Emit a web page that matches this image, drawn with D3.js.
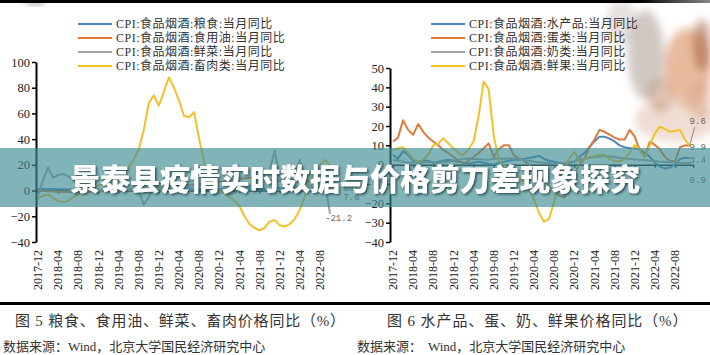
<!DOCTYPE html>
<html><head><meta charset="utf-8">
<script src="https://cdn.jsdelivr.net/npm/d3@7"></script>
<style>
html,body{margin:0;padding:0;background:#fff;}
svg{display:block;}
</style></head>
<body>
<svg id="chart" width="710" height="355"></svg>
<script>
// ---------- data ----------
// month index 0 = 2017-12 ... 59 = 2022-11
const tickLabels = ["2017-12","2018-04","2018-08","2018-12","2019-04","2019-08","2019-12","2020-04","2020-08","2020-12","2021-04","2021-08","2021-12","2022-04","2022-08"];
const yTicksLeft = [-40,-20,0,20,40,60,80,100];
const yTicksRight = [-40,-30,-20,-10,0,10,20,30,40,50];

const leftNames = ["CPI:食品烟酒:粮食:当月同比","CPI:食品烟酒:食用油:当月同比","CPI:食品烟酒:鲜菜:当月同比","CPI:食品烟酒:畜肉类:当月同比"];
const rightNames = ["CPI:食品烟酒:水产品:当月同比","CPI:食品烟酒:蛋类:当月同比","CPI:食品烟酒:奶类:当月同比","CPI:食品烟酒:鲜果:当月同比"];

// Fig.5 (2017-12 .. 2022-10)
const grain = [1.4,
  1.3,1.3,1.2,1.1,1.0,0.9,0.8,0.8,0.7,0.7,0.7,0.6,
  0.6,0.5,0.6,0.6,0.6,0.6,0.5,0.6,0.6,0.6,0.5,0.6,
  0.8,1.2,1.4,1.4,1.5,1.5,1.5,1.3,1.4,1.3,1.2,1.2,
  1.1,1.2,1.3,1.3,1.1,1.2,1.2,1.0,0.9,1.2,1.6,2.0,
  1.8,2.0,2.4,2.7,2.5,2.5,2.6,2.7,2.8,3.0];
const oil = [0.3,
  -0.3,-0.5,-0.8,-1.0,-1.1,-1.0,-1.2,-1.3,-1.2,-1.0,-0.8,-0.7,
  -0.5,-0.3,0.0,0.3,0.5,0.6,0.8,1.0,1.2,1.5,2.0,2.3,
  2.6,3.0,3.4,3.8,4.3,4.5,4.8,5.2,5.6,6.0,6.5,7.0,
  7.4,8.0,8.6,9.2,9.6,9.9,9.6,9.3,8.9,8.4,8.0,7.6,
  7.3,7.0,6.8,7.2,7.6,7.9,8.0,7.8,7.2,6.0];
const veg = [-4,
  8,18,10,12,13,11,8,4,3,2,1,0,
  1,2,0,-1,0,1,2,0,-11,-5,3,6,
  5,4,3,2,1,3,4,5,3,0,-3,-2,
  -1,-3,-2,0,2,3,5,8,12,16,31,10,
  5,2,12,24,11,3,8,11,5,-18];
const meat = [-6,
  -4,-3,-6,-8,-9,-8,-5,-3,-2,-1,1,4,
  5,7,9,11,13,18,24,32,47,68,74,66,
  77,88,80,70,58,57,61,40,22,3,-2,0,
  -2,-5,-8,-12,-20,-26,-29,-31,-29,-24,-23,-27,
  -28,-26,-22,-15,-4,8,14,20,24,20];

// Fig.6 (2017-12 .. 2022-11)
const aquatic = [5,
  3,7,5,2,1.5,2,2,1,1.5,2,2.5,2,
  1.5,1,0.5,1,1.5,1,0.5,0,1,1.5,2,2.5,
  2.5,3,3.5,4,4.5,3,2,1.5,1,0.5,1,1.5,
  4,6,9,12,14.5,14.5,13.5,12,10,9,8.5,8.5,
  8,6,4,1,-1,-2,-1.5,0,3,3.5,3.4];
const eggs = [12,
  14,23,18,15.5,21,17,14,12,10,7.5,6,4,
  2,0.5,2,4,6,8.5,11,4,8,10,10,5,
  3,2,0,-3,-5,-8,-11,-14,-16,-17,-12,-5,
  0,3,9,13,18,17,15.5,14,13,13,18,14.5,
  7.6,4,11.9,10.2,8,4,2,1.6,9,10,9.9];
const milk = [2.5,
  2,1.5,1,1.2,0.8,1,1.5,1,0.8,1.2,1.5,2,
  2.5,3,3.2,2.8,3,2.5,2.5,3,3.2,3,3.3,3,
  2.8,2.2,2,1.5,1.2,1,0.8,0.5,0.7,0.9,1.3,1.8,
  2.5,3,3.5,4,4.2,4.5,4.2,4,3.5,3.2,3,2.7,
  2.5,2.3,2,1.8,1.6,1.5,1.3,1.2,1,0.9,0.9];
const fruit = [7.6,
  8.5,9,6,3,1.6,2.5,5,10,11,13.6,11,8.5,
  6,5,8,12,25,43,39,15,2.4,0,-3,-4,
  -6,-9,-13,-18,-25,-29.5,-28,-19,-8,-2,3,6.7,
  1.6,3,4,4.5,5,5,3,2,1.6,3,6,10.2,
  8,4,10,16.2,19.7,18.5,17,17.5,18,12.8,9.6];

const leftEndLabels = ["60","7.6","-21.2"];
const rightEndLabels = ["9.6","9.9","3.4","0.9"];

const titleText = "景泰县疫情实时数据与价格剪刀差现象探究";
const caption5 = "图 5 粮食、食用油、鲜菜、畜肉价格同比（%）";
const caption6 = "图 6 水产品、蛋、奶、鲜果价格同比（%）";
const sourceLabel = "数据来源：";
const sourceText = "Wind，北京大学国民经济研究中心";

const colors = ["#4f87bd","#e07a3c","#a3a3a3","#f2c12a"];
const serif = "'Liberation Serif','Noto Sans CJK SC',serif";

// ---------- drawing ----------
const svg = d3.select("#chart");
const defs = svg.append("defs");
defs.append("filter").attr("id","blur").attr("x","-50%").attr("y","-50%").attr("width","200%").attr("height","200%")
  .append("feGaussianBlur").attr("stdDeviation",4);
const sh = defs.append("filter").attr("id","shadow").attr("x","-10%").attr("y","-30%").attr("width","120%").attr("height","160%");
sh.append("feDropShadow").attr("dx",1.5).attr("dy",1.5).attr("stdDeviation",1).attr("flood-color","#1f3f42").attr("flood-opacity",0.85);
const fade = defs.append("linearGradient").attr("id","fade").attr("x1","0").attr("x2","1");
fade.append("stop").attr("offset","0.9").attr("stop-color","#000");
fade.append("stop").attr("offset","1").attr("stop-color","#888");

svg.append("rect").attr("width",710).attr("height",355).attr("fill","#fff");

// faded background photo (top right)
const photo = svg.append("g").attr("filter","url(#blur)");
[[622,22,16,22,"#cfc3bf",0.5],[646,55,18,45,"#ab9a94",0.55],[688,68,24,40,"#d6814c",0.55],
 [702,45,9,26,"#9c5434",0.5],[676,120,42,22,"#e6c6b6",0.6],[660,95,12,18,"#c08f74",0.5],
 [700,100,12,20,"#d9a48a",0.5]]
 .forEach(e=>photo.append("ellipse").attr("cx",e[0]).attr("cy",e[1]).attr("rx",e[2]).attr("ry",e[3]).attr("fill",e[4]).attr("opacity",e[5]));
svg.append("ellipse").attr("cx",35).attr("cy",1).attr("rx",10).attr("ry",3).attr("fill","#6b5444").attr("filter","url(#blur)").attr("opacity",0.7);

// frame lines
svg.append("rect").attr("x",0).attr("y",0).attr("width",710).attr("height",3).attr("fill","url(#fade)");
svg.append("rect").attr("x",0).attr("y",302).attr("width",710).attr("height",3).attr("fill","#000");

function panel(cfg){
  const g = svg.append("g");
  const x = d3.scaleLinear().domain([0,56]).range(cfg.xr);
  const y = d3.scaleLinear().domain(cfg.yd).range([242, cfg.ytop]);
  const nMax = d3.max(cfg.series, s=>s.length) - 1;

  // legend
  cfg.names.forEach((n,k)=>{
    const ly = 24 + 14*k;
    g.append("line").attr("x1",cfg.legX).attr("x2",cfg.legX+34).attr("y1",ly).attr("y2",ly)
      .attr("stroke",colors[k]).attr("stroke-width",2);
    g.append("text").attr("x",cfg.legX+38).attr("y",ly).attr("dy","0.35em")
      .attr("font-family",serif).attr("font-size",12).attr("letter-spacing",0.5).attr("fill","#333").text(n);
  });

  // x axis at zero
  const xa = x.copy().domain([-0.4, nMax+0.6]).range([x(-0.4), x(nMax+0.6)]);
  const xg = g.append("g").attr("transform",`translate(0,${y(0)})`)
    .call(d3.axisBottom(xa).tickValues(d3.range(0,57,4)).tickSize(3).tickSizeOuter(3).tickFormat(""));
  xg.selectAll("path,line").attr("stroke","#222").attr("stroke-width",1.5);

  // rotated month labels
  tickLabels.forEach((t,k)=>{
    g.append("text").attr("transform",`translate(${x(k*4)},250) rotate(-90)`)
      .attr("text-anchor","end").attr("dy","0.35em")
      .attr("font-family",serif).attr("font-size",12).attr("fill","#222").text(t);
  });

  // y axis
  const yg = g.append("g").attr("transform",`translate(${cfg.axisX},0)`)
    .call(d3.axisLeft(y).tickValues(cfg.yTicks).tickSize(4).tickSizeOuter(0).tickPadding(2));
  yg.select(".domain").attr("stroke","#000").attr("stroke-width",2);
  yg.selectAll(".tick line").attr("stroke","#000").attr("stroke-width",1.5);
  yg.selectAll(".tick text").attr("font-family",serif).attr("font-size",12.5).attr("fill","#222");

  // series lines
  const line = d3.line().x((d,i)=>x(i)).y(d=>y(d));
  cfg.series.forEach((s,k)=>{
    g.append("path").datum(s).attr("d",line).attr("fill","none")
      .attr("stroke",colors[k]).attr("stroke-width",2).attr("stroke-linejoin","round");
  });

  // end labels
  cfg.endLabels.forEach((t,k)=>{
    const p = cfg.endPos[k];
    g.append("text").attr("x",x(p[0])).attr("y",y(p[1])).attr("dy","0.35em")
      .attr("font-family","'Liberation Mono',monospace").attr("font-size",9).attr("fill","#666").text(t);
  });
  if (cfg.leader) {
    g.append("line").attr("x1",x(cfg.leader[0][0])).attr("y1",y(cfg.leader[0][1]))
      .attr("x2",x(cfg.leader[1][0])).attr("y2",y(cfg.leader[1][1]))
      .attr("stroke","#888").attr("stroke-width",1);
  }
  return {x,y};
}

panel({xr:[38,320], yd:[-40,100], ytop:62, axisX:36, yTicks:yTicksLeft, legX:78,
  names:leftNames, series:[grain,oil,veg,meat], endLabels:leftEndLabels,
  endPos:[[60.6,2],[60.6,-5],[57,-21.3]]});
panel({xr:[393,675], yd:[-40,50], ytop:68, axisX:390, yTicks:yTicksRight, legX:431,
  names:rightNames, series:[aquatic,eggs,milk,fruit], endLabels:rightEndLabels,
  endPos:[[58.9,22.6],[58.9,9.2],[58.9,2.4],[58.9,-7.9]], leader:[[59.9,19.3],[58.9,10]]});

// captions
svg.append("text").attr("x",15).attr("y",326).attr("font-family",serif).attr("font-size",15).attr("letter-spacing",0.8).attr("fill","#333").text(caption5);
svg.append("text").attr("x",387).attr("y",326).attr("font-family",serif).attr("font-size",15).attr("letter-spacing",0.9).attr("fill","#333").text(caption6);
svg.append("text").attr("x",3).attr("y",351).attr("font-family",serif).attr("font-size",13).attr("fill","#333").text(sourceLabel+sourceText);
svg.append("text").attr("x",357).attr("y",351).attr("font-family",serif).attr("font-size",13).attr("fill","#333").text(sourceLabel);
svg.append("text").attr("x",428).attr("y",351).attr("font-family",serif).attr("font-size",13).attr("fill","#333").text(sourceText);

// banner
svg.append("rect").attr("x",0).attr("y",148).attr("width",710).attr("height",59).attr("fill","#3d8c94").attr("opacity",0.65);
svg.append("text").attr("x",355).attr("y",179).attr("text-anchor","middle").attr("dy","0.35em")
  .attr("font-family","'Noto Sans CJK SC',sans-serif").attr("font-weight",900).attr("font-size",30)
  .attr("fill","#fff").attr("filter","url(#shadow)").text(titleText);
</script>
</body></html>
